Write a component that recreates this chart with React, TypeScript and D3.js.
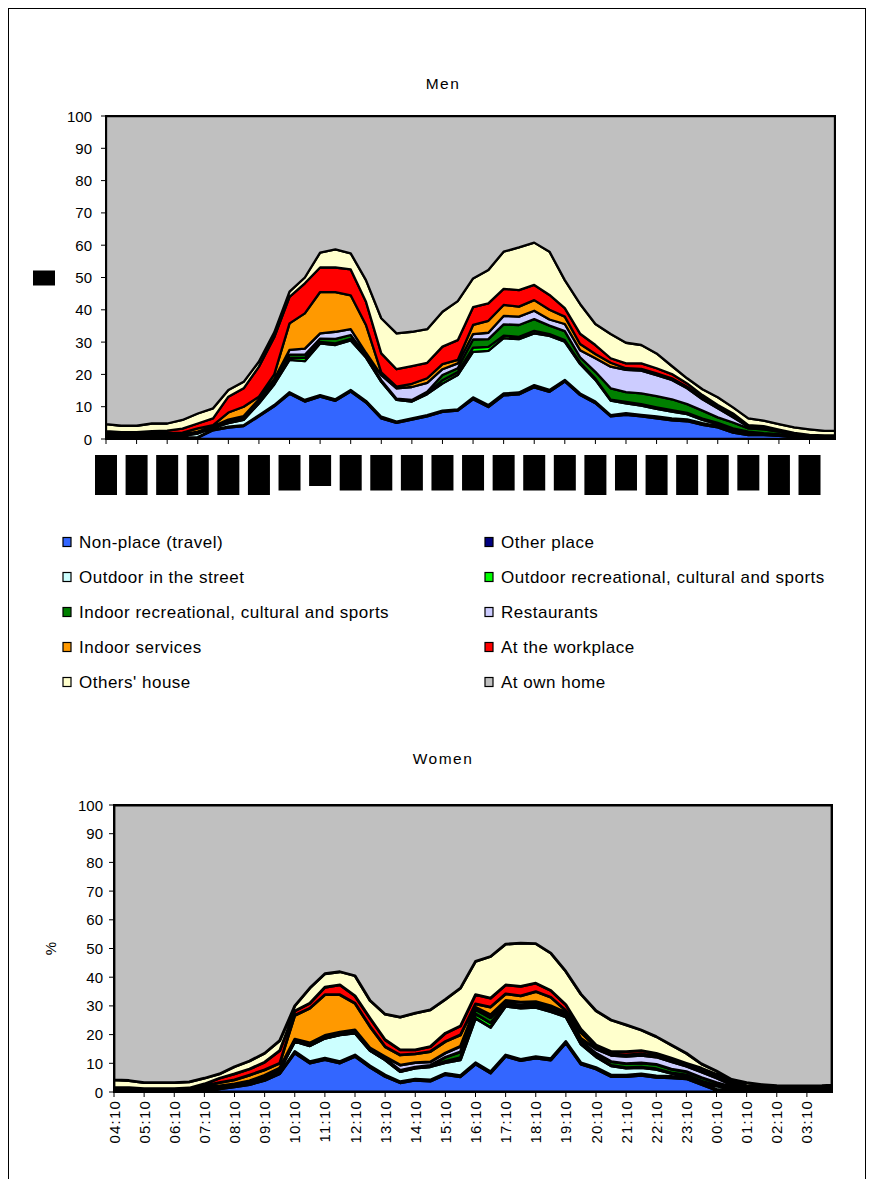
import * as d3 from 'd3';

// half-hour samples, 04:10 ... 03:40 plus the last 10-minute slot 04:00
const sampleTimes = [
  '04:10', '04:40', '05:10', '05:40', '06:10', '06:40', '07:10', '07:40', '08:10', '08:40',
  '09:10', '09:40', '10:10', '10:40', '11:10', '11:40', '12:10', '12:40', '13:10', '13:40',
  '14:10', '14:40', '15:10', '15:40', '16:10', '16:40', '17:10', '17:40', '18:10', '18:40',
  '19:10', '19:40', '20:10', '20:40', '21:10', '21:40', '22:10', '22:40', '23:10', '23:40',
  '00:10', '00:40', '01:10', '01:40', '02:10', '02:40', '03:10', '03:40', '04:00',
];

const hourLabels = [
  '04:10', '05:10', '06:10', '07:10', '08:10', '09:10', '10:10', '11:10', '12:10', '13:10', '14:10', '15:10',
  '16:10', '17:10', '18:10', '19:10', '20:10', '21:10', '22:10', '23:10', '00:10', '01:10', '02:10', '03:10',
];

const yTicks = [0, 10, 20, 30, 40, 50, 60, 70, 80, 90, 100];

const seriesNames = [
  'Non-place (travel)',
  'Other place',
  'Outdoor in the street',
  'Outdoor recreational, cultural and sports',
  'Indoor recreational, cultural and sports',
  'Restaurants',
  'Indoor services',
  'At the workplace',
  "Others' house",
  'At own home',
];

const seriesColors = [
  '#3366FF', '#000080', '#CCFFFF', '#00FF00', '#008000',
  '#CCCCFF', '#FF9900', '#FF0000', '#FFFFCC', '#C0C0C0',
];

// ---- Men (%)
const menTravel = [0.3, 0.2, 0.2, 0.2, 0.3, 0.3, 0.4, 2.7, 3.5, 4.0, 7.0, 10.1, 14.0, 11.6, 13.1, 11.8, 14.7, 11.3, 6.4, 5.0, 6.0, 7.0, 8.4, 8.8, 12.3, 9.9, 13.5, 13.8, 16.0, 14.6, 17.8, 13.6, 11.1, 7.0, 7.5, 7.0, 6.4, 5.8, 5.5, 4.4, 3.6, 2.0, 1.2, 1.2, 1.0, 0.6, 0.3, 0.2, 0.2];
const menOther = [0.3, 0.3, 0.3, 0.3, 0.3, 0.2, 0.2, 0.2, 0.3, 0.3, 0.4, 0.4, 0.5, 0.5, 0.5, 0.5, 0.5, 0.5, 0.5, 0.4, 0.4, 0.4, 0.4, 0.4, 0.6, 0.6, 0.6, 0.6, 0.7, 0.6, 0.5, 0.5, 0.5, 0.4, 0.5, 0.5, 0.6, 0.6, 0.6, 0.5, 0.4, 0.3, 0.3, 0.2, 0.2, 0.1, 0.1, 0.1, 0.1];
const menStreet = [0.3, 0.3, 0.3, 0.3, 0.4, 0.5, 1.1, 0.5, 1.1, 1.6, 3.6, 6.4, 10.0, 12.0, 16.0, 16.8, 15.3, 13.4, 10.8, 6.7, 5.2, 6.5, 8.4, 10.6, 14.1, 16.8, 17.1, 16.5, 16.0, 16.7, 11.8, 9.1, 6.7, 4.5, 3.0, 2.8, 2.3, 2.1, 1.6, 1.0, 0.6, 0.7, 0.5, 0.1, 0.1, 0.2, 0.2, 0.2, 0.2];
const menOutRec = [0.1, 0.1, 0.1, 0.1, 0.1, 0.1, 0.1, 0.1, 0.2, 0.2, 0.3, 0.4, 0.6, 1.0, 0.5, 0.5, 0.5, 0.2, 0.1, 0.1, 0.1, 0.2, 1.0, 0.9, 1.3, 1.2, 0.8, 0.7, 0.8, 0.6, 0.5, 0.5, 0.4, 0.3, 0.5, 0.5, 0.5, 0.4, 0.4, 0.4, 0.4, 0.3, 0.3, 0.3, 0.2, 0.1, 0.1, 0.1, 0.1];
const menInRec = [0.1, 0.1, 0.1, 0.1, 0.1, 0.1, 0.2, 0.2, 0.3, 0.3, 0.5, 0.6, 1.0, 1.0, 1.0, 1.4, 1.2, 0.5, 0.4, 0.3, 0.4, 0.5, 1.6, 1.2, 2.5, 2.4, 3.5, 3.7, 3.6, 2.6, 2.8, 1.6, 2.1, 3.5, 3.0, 3.3, 3.5, 3.4, 2.7, 2.5, 1.7, 1.8, 1.0, 1.2, 0.8, 0.5, 0.3, 0.2, 0.2];
const menRest = [0.3, 0.3, 0.2, 0.2, 0.2, 0.2, 0.3, 0.2, 0.6, 0.7, 0.5, 0.7, 1.5, 1.9, 1.6, 2.2, 1.8, 0.8, 1.6, 3.2, 4.0, 2.8, 1.8, 1.5, 1.7, 2.0, 2.6, 2.6, 2.6, 1.9, 2.2, 2.2, 4.2, 6.7, 6.9, 7.1, 6.5, 6.0, 4.9, 3.5, 2.8, 1.6, 0.5, 0.6, 0.3, 0.1, 0.1, 0.1, 0.1];
const menServ = [0.4, 0.3, 0.3, 0.6, 0.5, 0.6, 1.0, 0.4, 2.2, 2.9, 0.8, 1.4, 8.2, 10.9, 12.8, 12.3, 10.5, 8.6, 0.8, 0.5, 1.0, 1.4, 1.6, 1.1, 2.8, 3.7, 3.4, 3.1, 3.3, 3.0, 2.3, 1.9, 1.3, 1.2, 0.5, 0.5, 0.5, 0.5, 0.5, 0.6, 0.3, 0.4, 0.2, 0.1, 0.1, 0.1, 0.1, 0.1, 0.1];
const menWork = [0.6, 0.5, 0.6, 0.6, 0.7, 1.2, 1.5, 2.1, 4.9, 5.7, 9.3, 11.5, 8.2, 9.3, 7.6, 7.6, 8.0, 7.2, 5.9, 5.4, 5.5, 4.8, 5.4, 6.1, 5.5, 5.4, 5.0, 5.1, 4.7, 4.6, 2.6, 3.2, 2.8, 1.4, 1.5, 1.7, 1.6, 1.3, 1.0, 0.7, 0.7, 0.8, 0.3, 0.3, 0.2, 0.2, 0.1, 0.1, 0.1];
const menOthers = [2.2, 2.0, 2.0, 2.4, 2.2, 2.7, 3.1, 3.1, 2.1, 2.0, 1.6, 1.5, 1.6, 1.8, 4.6, 5.6, 5.0, 6.7, 10.9, 11.1, 10.6, 10.4, 10.8, 12.1, 8.9, 10.3, 11.5, 13.2, 13.1, 13.4, 8.7, 9.2, 6.5, 7.5, 6.4, 5.7, 4.6, 2.5, 1.6, 1.8, 2.4, 1.9, 2.1, 1.7, 1.7, 1.7, 1.7, 1.4, 1.4];
const menHome = [95.4, 95.9, 95.9, 95.2, 95.2, 94.1, 92.1, 90.5, 84.8, 82.3, 76.0, 67.0, 54.4, 50.0, 42.3, 41.3, 42.5, 50.8, 62.6, 67.3, 66.8, 66.0, 60.6, 57.3, 50.3, 47.7, 42.0, 40.7, 39.2, 42.0, 50.8, 58.2, 64.4, 67.5, 70.2, 70.9, 73.5, 77.4, 81.2, 84.6, 87.1, 90.2, 93.6, 94.3, 95.4, 96.4, 97.0, 97.5, 97.5];

// ---- Women (%)
const womenTravel = [0.1, 0.1, 0.1, 0.1, 0.1, 0.1, 0.5, 1.1, 1.8, 2.6, 4.0, 6.4, 13.6, 10.1, 11.3, 10.1, 12.4, 8.6, 5.4, 3.2, 4.1, 3.8, 6.1, 5.3, 9.7, 6.6, 12.4, 10.9, 11.8, 11.1, 17.1, 9.7, 8.0, 5.4, 5.4, 5.8, 5.1, 4.9, 4.6, 2.6, 0.6, 0.1, 0, 0, 0, 0, 0, 0, 0];
const womenOther = [0.2, 0.2, 0.2, 0.2, 0.2, 0.2, 0.2, 0.2, 0.2, 0.2, 0.2, 0.2, 0.5, 0.5, 0.5, 0.5, 0.5, 0.5, 0.5, 0.4, 0.4, 0.4, 0.4, 0.4, 0.5, 0.5, 0.5, 0.5, 0.5, 0.5, 0.5, 0.5, 0.5, 0.5, 0.5, 0.5, 0.5, 0.5, 0.4, 0.4, 0.3, 0.3, 0.2, 0.2, 0.2, 0.2, 0.2, 0.2, 0.2];
const womenStreet = [0.2, 0.2, 0.2, 0.2, 0.2, 0.2, 0.6, 0.3, 0.3, 0.5, 0.8, 1.0, 3.5, 5.5, 6.9, 9.3, 7.6, 5.3, 5.3, 3.5, 3.8, 4.6, 3.7, 5.5, 15.5, 15.4, 17.0, 17.8, 17.2, 16.4, 8.6, 6.5, 3.8, 3.2, 2.4, 2.2, 2.3, 1.1, 0.8, 0.6, 1.2, 0.6, 0.3, 0.2, 0.2, 0.2, 0.2, 0.2, 0.2];
const womenOutRec = [0.1, 0.1, 0.1, 0.1, 0.1, 0.1, 0.1, 0.1, 0.1, 0.1, 0.1, 0.1, 0.1, 0.1, 0.1, 0.1, 0.1, 0.1, 0.1, 0.1, 0.1, 0.1, 0.5, 0.8, 1.5, 1.6, 0.3, 0.3, 0.3, 0.3, 0.2, 0.2, 0.2, 0.2, 0.2, 0.2, 0.2, 0.2, 0.2, 0.2, 0.2, 0.2, 0.1, 0.1, 0.1, 0.1, 0.1, 0.1, 0.1];
const womenInRec = [0.1, 0.1, 0.1, 0.1, 0.1, 0.1, 0.1, 0.2, 0.2, 0.2, 0.3, 0.3, 0.3, 0.4, 0.4, 0.4, 0.4, 0.3, 0.3, 0.3, 0.3, 0.4, 1.4, 2.0, 1.5, 1.8, 0.8, 0.8, 0.8, 0.8, 0.7, 0.8, 1.0, 1.3, 1.4, 1.4, 1.5, 1.3, 1.1, 1.2, 1.0, 0.6, 0.4, 0.3, 0.2, 0.2, 0.2, 0.2, 0.2];
const womenRest = [0.2, 0.2, 0.1, 0.1, 0.1, 0.1, 0.1, 0.2, 0.2, 0.3, 0.4, 0.4, 0.4, 0.5, 0.5, 0.5, 0.6, 0.5, 0.7, 1.9, 1.5, 1.2, 1.5, 1.9, 0.8, 1.0, 0.9, 1.0, 0.9, 0.9, 0.6, 1.0, 1.5, 2.2, 2.5, 2.7, 2.6, 2.6, 1.9, 2.0, 1.6, 0.7, 0.4, 0.3, 0.2, 0.2, 0.2, 0.2, 0.2];
const womenServ = [0.3, 0.3, 0.2, 0.2, 0.2, 0.3, 0.6, 1.2, 1.4, 2.0, 1.9, 1.6, 8.3, 12.1, 14.2, 13.0, 9.3, 7.5, 3.5, 3.5, 3.1, 3.6, 4.0, 4.0, 1.2, 2.7, 2.3, 2.2, 3.5, 3.0, 0.7, 2.0, 0.8, 0.5, 0.5, 0.5, 0.4, 0.4, 0.4, 0.5, 0.5, 0.4, 0.3, 0.2, 0.2, 0.2, 0.2, 0.2, 0.2];
const womenWork = [0.3, 0.3, 0.2, 0.2, 0.2, 0.3, 0.6, 1.5, 2.1, 2.1, 2.7, 4.4, 1.5, 1.7, 2.6, 3.4, 2.6, 2.9, 2.4, 1.8, 1.4, 1.7, 2.9, 3.1, 3.2, 3.1, 3.1, 3.3, 2.9, 2.4, 2.0, 1.2, 0.6, 0.8, 1.2, 1.1, 0.9, 0.8, 0.6, 0.8, 0.8, 0.7, 0.5, 0.4, 0.3, 0.3, 0.3, 0.3, 0.3];
const womenOthers = [2.7, 2.5, 2.1, 2.1, 2.1, 2.1, 2.0, 1.5, 2.5, 2.8, 3.1, 3.5, 1.8, 5.3, 4.7, 4.6, 7.0, 6.2, 8.9, 11.4, 12.8, 12.8, 11.8, 13.2, 11.6, 14.5, 14.2, 15.1, 13.8, 13.0, 11.6, 12.2, 11.9, 11.0, 9.3, 7.2, 5.8, 4.6, 3.5, 1.5, 1.1, 0.8, 1.1, 0.9, 0.8, 0.7, 0.7, 0.8, 1.0];
const womenHome = [95.8, 96.0, 96.7, 96.7, 96.7, 96.5, 95.2, 93.7, 91.2, 89.2, 86.5, 82.1, 70.0, 63.8, 58.8, 58.1, 59.5, 68.1, 72.9, 73.9, 72.5, 71.4, 67.7, 63.8, 54.5, 52.8, 48.5, 48.1, 48.3, 51.6, 58.0, 65.9, 71.7, 74.9, 76.6, 78.4, 80.7, 83.6, 86.5, 90.2, 92.7, 95.6, 96.7, 97.4, 97.8, 97.9, 97.9, 97.8, 97.6];

const menSeries = [menTravel, menOther, menStreet, menOutRec, menInRec, menRest, menServ, menWork, menOthers, menHome];
const womenSeries = [womenTravel, womenOther, womenStreet, womenOutRec, womenInRec, womenRest, womenServ, womenWork, womenOthers, womenHome];

const FONT = "'Liberation Sans', Arial, sans-serif";

// minutes elapsed since 04:10
function minutesFrom(t: string) {
  const [h, m] = t.split(':').map(Number);
  return (h * 60 + m - 250 + 1440) % 1440;
}

interface Box { left: number; right: number; top: number; bottom: number }

interface PanelProps {
  id: string;
  title: string;
  titleY: number;
  series: number[][];
  box: Box;
  lineWidth: number;
  redacted: boolean;
  labelRight: number;
  pctX: number;
}

function Panel({ id, title, titleY, series, box, lineWidth, redacted, labelRight, pctX }: PanelProps) {
  const x = d3.scaleLinear().domain([0, minutesFrom('04:00')]).range([box.left, box.right]);
  const y = d3.scaleLinear().domain([0, 100]).range([box.bottom, box.top]);

  const rows = sampleTimes.map((t, i) => {
    const r: Record<string, number> = { m: minutesFrom(t) };
    seriesNames.forEach((n, k) => { r[n] = series[k][i]; });
    return r;
  });
  const stacked = d3.stack<Record<string, number>>().keys(seriesNames)(rows);

  const area = d3.area<d3.SeriesPoint<Record<string, number>>>()
    .x((d) => x(d.data.m))
    .y0((d) => y(Math.min(100, d[0])))
    .y1((d) => y(Math.min(100, d[1])));

  const midY = (box.top + box.bottom) / 2;

  return (
    <g>
      <defs>
        <clipPath id={`clip-${id}`}>
          <rect x={box.left} y={box.top} width={box.right - box.left} height={box.bottom - box.top} />
        </clipPath>
      </defs>
      <text x={443} y={titleY} textAnchor="middle" fontSize={15.5} letterSpacing={1.5} fontFamily={FONT}>{title}</text>

      <rect x={box.left} y={box.top} width={box.right - box.left} height={box.bottom - box.top} fill="#C0C0C0" />
      <g clipPath={`url(#clip-${id})`}>
        {stacked.map((s, k) => (
          <path key={s.key} d={area(s) ?? ''} fill={seriesColors[k]} stroke="#000" strokeWidth={lineWidth} strokeLinejoin="round" />
        ))}
      </g>
      <rect x={box.left} y={box.top} width={box.right - box.left} height={box.bottom - box.top} fill="none" stroke="#000" strokeWidth={2} />

      {yTicks.map((v) => (
        <g key={v}>
          <line x1={box.left - 5} x2={box.left} y1={y(v)} y2={y(v)} stroke="#000" />
          <text x={labelRight} y={y(v) + 5.5} textAnchor="end" fontSize={15} fontFamily={FONT}>{v}</text>
        </g>
      ))}

      {hourLabels.map((t) => {
        const tx = x(minutesFrom(t));
        const ones = t.split('').filter((c) => c === '1').length;
        const h = 40 - 4.5 * (ones - 1);
        return (
          <g key={t}>
            <line x1={tx} x2={tx} y1={box.bottom} y2={box.bottom + 5} stroke="#000" />
            {redacted ? (
              <g>
                <text x={tx + 4} y={box.bottom + 18} transform={`rotate(-90 ${tx + 4} ${box.bottom + 18})`} textAnchor="end" fontSize={9} fontFamily={FONT}>{t}</text>
                <rect x={tx - 11} y={box.bottom + 16} width={22} height={h} fill="#000" />
              </g>
            ) : (
              <text x={tx + 5.5} y={box.bottom + 8} transform={`rotate(-90 ${tx + 5.5} ${box.bottom + 8})`} textAnchor="end" fontSize={15} letterSpacing={1.2} fontFamily={FONT}>{t}</text>
            )}
          </g>
        );
      })}

      {redacted ? (
        <g>
          <text x={pctX} y={midY} transform={`rotate(-90 ${pctX} ${midY})`} textAnchor="middle" fontSize={11} fontFamily={FONT}>%</text>
          <rect x={33} y={midY - 7} width={22} height={15} fill="#000" />
        </g>
      ) : (
        <text x={pctX} y={midY} transform={`rotate(-90 ${pctX} ${midY})`} textAnchor="middle" fontSize={15} fontFamily={FONT}>%</text>
      )}
    </g>
  );
}

function Legend() {
  const rowY = (i: number) => 542 + Math.floor(i / 2) * 35;
  return (
    <g>
      {seriesNames.map((n, i) => {
        const sx = i % 2 === 0 ? 63 : 485;
        const cy = rowY(i);
        return (
          <g key={n}>
            <rect x={sx} y={cy - 4.5} width={8} height={9} fill={seriesColors[i]} stroke="#000" strokeWidth={1.2} />
            <text x={sx + 16} y={cy + 6} fontSize={17} letterSpacing={0.5} fontFamily={FONT}>{n}</text>
          </g>
        );
      })}
    </g>
  );
}

export default function App() {
  return (
    <svg width={873} height={1179} style={{ position: 'absolute', left: 0, top: 0, background: '#fff' }}>
      <rect x={8.5} y={8.5} width={857} height={1200} fill="#fff" stroke="#000" strokeWidth={1} />
      <Panel
        id="men"
        title="Men"
        titleY={89}
        series={menSeries}
        box={{ left: 106, right: 835, top: 116, bottom: 439 }}
        lineWidth={2.3}
        redacted
        labelRight={92}
        pctX={47}
      />
      <Legend />
      <Panel
        id="women"
        title="Women"
        titleY={764}
        series={womenSeries}
        box={{ left: 114, right: 832, top: 805, bottom: 1092 }}
        lineWidth={2.8}
        redacted={false}
        labelRight={103}
        pctX={56}
      />
    </svg>
  );
}
